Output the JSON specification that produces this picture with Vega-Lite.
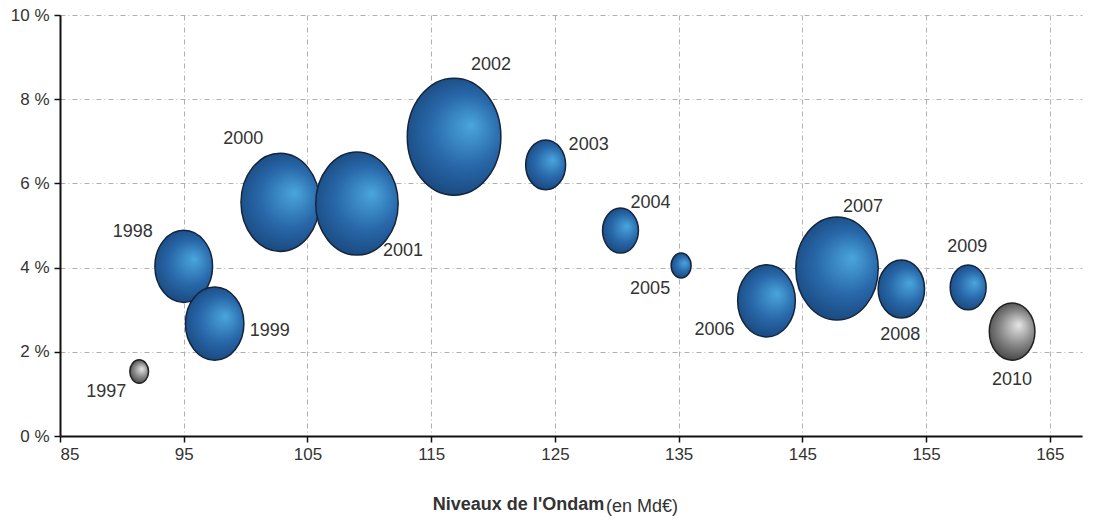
{
  "$schema": "https://vega.github.io/schema/vega-lite/v6.json",
  "width": 1022,
  "height": 421,
  "autosize": "none",
  "padding": {"left": 60, "top": 15, "right": 16, "bottom": 86},
  "background": "white",
  "config": {
    "view": {"stroke": null},
    "font": "Liberation Sans, sans-serif",
    "text": {"font": "Liberation Sans, sans-serif"}
  },
  "title": {
    "text": "(en Md€)",
    "orient": "bottom",
    "anchor": "start",
    "frame": "group",
    "dx": 546,
    "dy": -19,
    "font": "Liberation Sans, sans-serif",
    "fontSize": 18,
    "fontWeight": "normal",
    "color": "#333333"
  },
  "data": {
    "values": [
      {"annee": 1997, "ondam": 91.4, "taux": 1.53, "depassement": 0.15, "statut": "respecté"},
      {"annee": 1998, "ondam": 95.0, "taux": 4.03, "depassement": 1.42, "statut": "dépassé"},
      {"annee": 1999, "ondam": 97.5, "taux": 2.67, "depassement": 1.46, "statut": "dépassé"},
      {"annee": 2000, "ondam": 102.8, "taux": 5.55, "depassement": 2.63, "statut": "dépassé"},
      {"annee": 2001, "ondam": 109.0, "taux": 5.52, "depassement": 2.9, "statut": "dépassé"},
      {"annee": 2002, "ondam": 116.85, "taux": 7.11, "depassement": 3.74, "statut": "dépassé"},
      {"annee": 2003, "ondam": 124.25, "taux": 6.44, "depassement": 0.68, "statut": "dépassé"},
      {"annee": 2004, "ondam": 130.3, "taux": 4.88, "depassement": 0.55, "statut": "dépassé"},
      {"annee": 2005, "ondam": 135.2, "taux": 4.05, "depassement": 0.17, "statut": "dépassé"},
      {"annee": 2006, "ondam": 142.1, "taux": 3.21, "depassement": 1.42, "statut": "dépassé"},
      {"annee": 2007, "ondam": 147.8, "taux": 3.98, "depassement": 2.9, "statut": "dépassé"},
      {"annee": 2008, "ondam": 153.0, "taux": 3.49, "depassement": 0.92, "statut": "dépassé"},
      {"annee": 2009, "ondam": 158.4, "taux": 3.53, "depassement": 0.55, "statut": "dépassé"},
      {"annee": 2010, "ondam": 161.95, "taux": 2.48, "depassement": 0.89, "statut": "respecté"}
    ]
  },
  "encoding": {
    "x": {
      "field": "ondam",
      "type": "quantitative",
      "scale": {"domain": [85, 167.6], "nice": false, "zero": false},
      "axis": {
        "values": [85, 95, 105, 115, 125, 135, 145, 155, 165],
        "title": "Niveaux de l'Ondam",
        "titleFont": "Liberation Sans, sans-serif",
        "titleFontSize": 18,
        "titleFontWeight": "bold",
        "titleColor": "#333333",
        "titleX": 458,
        "titleY": 68,
        "titleAlign": "center",
        "titleBaseline": "middle",
        "labelFont": "Liberation Sans, sans-serif",
        "labelFontSize": 17,
        "labelColor": "#333333",
        "labelPadding": 4,
        "labelBaseline": "top",
        "domainColor": "#111111",
        "domainWidth": 2,
        "tickColor": "#111111",
        "tickSize": 6,
        "tickWidth": 1.5,
        "grid": true,
        "gridColor": "#b0b0b0",
        "gridDash": [5, 3, 1, 3],
        "gridWidth": 1
      }
    },
    "y": {
      "field": "taux",
      "type": "quantitative",
      "scale": {"domain": [0, 10], "nice": false},
      "axis": {
        "values": [0, 2, 4, 6, 8, 10],
        "title": null,
        "labelExpr": "datum.value + ' %'",
        "labelFont": "Liberation Sans, sans-serif",
        "labelFontSize": 17,
        "labelColor": "#333333",
        "labelPadding": 5,
        "domainColor": "#111111",
        "domainWidth": 2,
        "tickColor": "#111111",
        "tickSize": 6,
        "tickWidth": 1.5,
        "grid": true,
        "gridColor": "#b0b0b0",
        "gridDash": [5, 3, 1, 3],
        "gridWidth": 1
      }
    }
  },
  "layer": [
    {
      "transform": [{"filter": "datum.statut == 'dépassé'"}],
      "mark": {
        "type": "point",
        "shape": "M0,-1 A0.8,1 0 1,1 0,1 A0.8,1 0 1,1 0,-1 Z",
        "filled": true,
        "opacity": 1,
        "fill": {
          "gradient": "radial",
          "x1": 0.65, "y1": 0.4, "r1": 0,
          "x2": 0.55, "y2": 0.5, "r2": 0.62,
          "stops": [
            {"offset": 0, "color": "#4aa6dd"},
            {"offset": 0.5, "color": "#2867a9"},
            {"offset": 1, "color": "#143e6e"}
          ]
        },
        "stroke": "#14253c",
        "strokeWidth": 1.5
      },
      "encoding": {
        "size": {"field": "depassement", "type": "quantitative", "scale": {"domain": [0, 3.74], "range": [0, 13690]}, "legend": null}
      }
    },
    {
      "transform": [{"filter": "datum.statut == 'respecté'"}],
      "mark": {
        "type": "point",
        "shape": "M0,-1 A0.8,1 0 1,1 0,1 A0.8,1 0 1,1 0,-1 Z",
        "filled": true,
        "opacity": 1,
        "fill": {
          "gradient": "radial",
          "x1": 0.62, "y1": 0.38, "r1": 0,
          "x2": 0.55, "y2": 0.5, "r2": 0.62,
          "stops": [
            {"offset": 0, "color": "#e6e6e6"},
            {"offset": 0.5, "color": "#858585"},
            {"offset": 1, "color": "#2e2e2e"}
          ]
        },
        "stroke": "#222222",
        "strokeWidth": 1.5
      },
      "encoding": {
        "size": {"field": "depassement", "type": "quantitative", "scale": {"domain": [0, 3.74], "range": [0, 13690]}, "legend": null}
      }
    },
    {"transform": [{"filter": "datum.annee == 1997"}], "mark": {"type": "text", "dx": -33, "dy": 20, "fontSize": 18, "color": "#333333"}, "encoding": {"text": {"field": "annee", "type": "nominal"}}},
    {"transform": [{"filter": "datum.annee == 1998"}], "mark": {"type": "text", "dx": -51, "dy": -34, "fontSize": 18, "color": "#333333"}, "encoding": {"text": {"field": "annee", "type": "nominal"}}},
    {"transform": [{"filter": "datum.annee == 1999"}], "mark": {"type": "text", "dx": 55, "dy": 7, "fontSize": 18, "color": "#333333"}, "encoding": {"text": {"field": "annee", "type": "nominal"}}},
    {"transform": [{"filter": "datum.annee == 2000"}], "mark": {"type": "text", "dx": -37, "dy": -63, "fontSize": 18, "color": "#333333"}, "encoding": {"text": {"field": "annee", "type": "nominal"}}},
    {"transform": [{"filter": "datum.annee == 2001"}], "mark": {"type": "text", "dx": 46, "dy": 47, "fontSize": 18, "color": "#333333"}, "encoding": {"text": {"field": "annee", "type": "nominal"}}},
    {"transform": [{"filter": "datum.annee == 2002"}], "mark": {"type": "text", "dx": 37, "dy": -72, "fontSize": 18, "color": "#333333"}, "encoding": {"text": {"field": "annee", "type": "nominal"}}},
    {"transform": [{"filter": "datum.annee == 2003"}], "mark": {"type": "text", "dx": 43, "dy": -20, "fontSize": 18, "color": "#333333"}, "encoding": {"text": {"field": "annee", "type": "nominal"}}},
    {"transform": [{"filter": "datum.annee == 2004"}], "mark": {"type": "text", "dx": 30, "dy": -28, "fontSize": 18, "color": "#333333"}, "encoding": {"text": {"field": "annee", "type": "nominal"}}},
    {"transform": [{"filter": "datum.annee == 2005"}], "mark": {"type": "text", "dx": -31, "dy": 24, "fontSize": 18, "color": "#333333"}, "encoding": {"text": {"field": "annee", "type": "nominal"}}},
    {"transform": [{"filter": "datum.annee == 2006"}], "mark": {"type": "text", "dx": -52, "dy": 29, "fontSize": 18, "color": "#333333"}, "encoding": {"text": {"field": "annee", "type": "nominal"}}},
    {"transform": [{"filter": "datum.annee == 2007"}], "mark": {"type": "text", "dx": 26, "dy": -61, "fontSize": 18, "color": "#333333"}, "encoding": {"text": {"field": "annee", "type": "nominal"}}},
    {"transform": [{"filter": "datum.annee == 2008"}], "mark": {"type": "text", "dx": -1, "dy": 46, "fontSize": 18, "color": "#333333"}, "encoding": {"text": {"field": "annee", "type": "nominal"}}},
    {"transform": [{"filter": "datum.annee == 2009"}], "mark": {"type": "text", "dx": -1, "dy": -40, "fontSize": 18, "color": "#333333"}, "encoding": {"text": {"field": "annee", "type": "nominal"}}},
    {"transform": [{"filter": "datum.annee == 2010"}], "mark": {"type": "text", "dx": 0, "dy": 48, "fontSize": 18, "color": "#333333"}, "encoding": {"text": {"field": "annee", "type": "nominal"}}}
  ]
}
